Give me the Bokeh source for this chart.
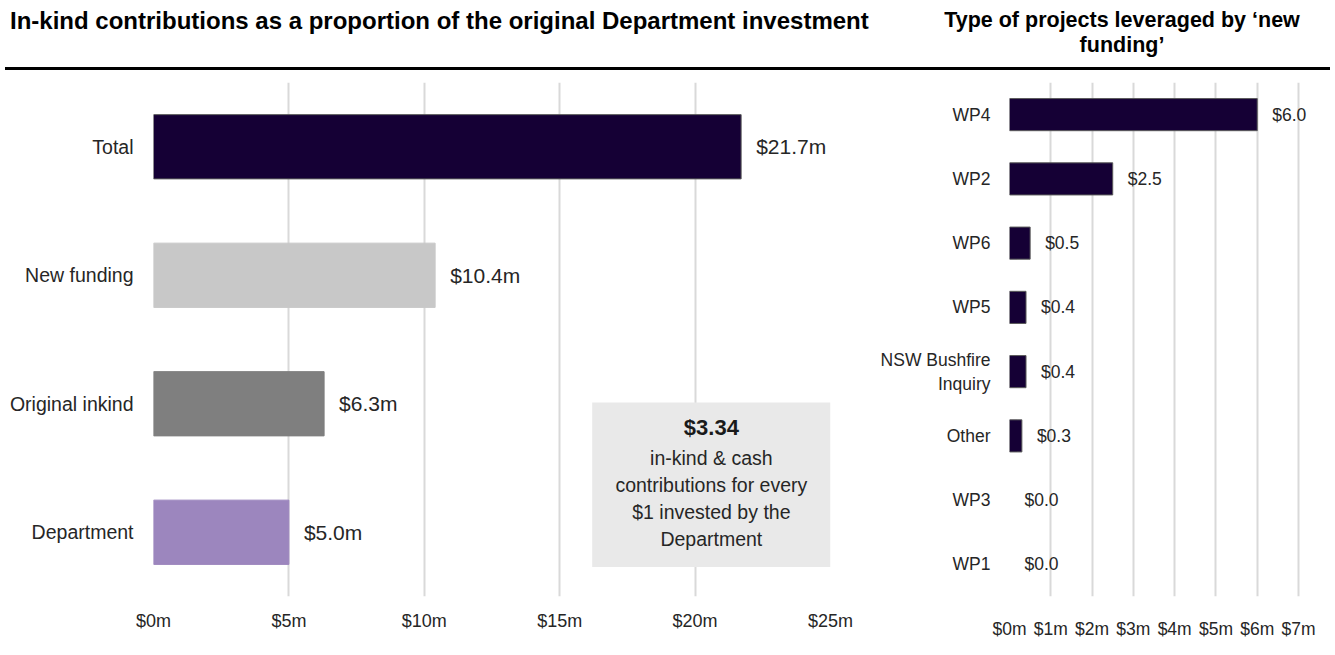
from bokeh.plotting import figure
from bokeh.models import (FactorRange, Range1d, FixedTicker, BoxAnnotation, Label,
                          LabelSet, Div, ColumnDataSource)
from bokeh.layouts import column, row
from bokeh.embed import file_html
from bokeh.resources import INLINE
from bokeh.core.properties import value

# ---------------- data ----------------
left_categories = ["Total", "New funding", "Original inkind", "Department"]
left_values = [21.7, 10.4, 6.3, 5.0]
left_ticks = [0, 5, 10, 15, 20, 25]

right_categories = ["WP4", "WP2", "WP6", "WP5", "NSW Bushfire\nInquiry", "Other", "WP3", "WP1"]
right_values = [6.0, 2.5, 0.5, 0.4, 0.4, 0.3, 0.0, 0.0]
right_ticks = [0, 1, 2, 3, 4, 5, 6, 7]

left_title = "In-kind contributions as a proportion of the original Department investment"
right_title_lines = ["Type of projects leveraged by \u2018new", "funding\u2019"]
callout_lines = ["in-kind & cash", "contributions for every", "$1 invested by the", "Department"]

# ---------------- style ----------------
FONT = "Liberation Sans"
TXT = "#262626"
GRID = "#d9d9d9"
DARK = "#150035"
EDGE = "#5a5a5a"
left_colors = {"Total": DARK, "New funding": "#c8c8c8",
               "Original inkind": "#7f7f7f", "Department": "#9c86be"}
left_edges = {"Total": EDGE, "New funding": "#c8c8c8",
              "Original inkind": "#7f7f7f", "Department": "#9c86be"}
RIGHT_PAD = 0.58   # extra room to the right of $7m so value labels are not clipped


def style_axes(p, x_standoff, y_standoff, xsize, ysize):
    for ax in (p.xaxis[0], p.yaxis[0]):
        ax.axis_line_color = None
        ax.major_tick_line_color = None
        ax.minor_tick_line_color = None
        ax.major_tick_out = 0
        ax.major_tick_in = 0
        ax.minor_tick_out = 0
        ax.major_label_text_font = FONT
        ax.major_label_text_color = TXT
    p.xaxis[0].major_label_text_font_size = xsize
    p.yaxis[0].major_label_text_font_size = ysize
    p.xaxis[0].major_label_standoff = x_standoff
    p.yaxis[0].major_label_standoff = y_standoff
    p.ygrid.grid_line_color = None
    p.xgrid.grid_line_color = GRID
    p.xgrid.grid_line_width = 2
    p.outline_line_color = None


# ---------------- left chart ----------------
lp = figure(width=865, height=585,
            y_range=FactorRange(factors=left_categories[::-1], range_padding=0),
            x_range=Range1d(0, left_ticks[-1]),
            output_backend="svg", toolbar_location=None,
            min_border_left=153, min_border_right=35,
            min_border_top=12, min_border_bottom=59)

lsrc = ColumnDataSource(dict(
    cat=left_categories, val=left_values,
    color=[left_colors[c] for c in left_categories],
    edge=[left_edges[c] for c in left_categories],
    label=["$%.1fm" % v for v in left_values]))
lp.hbar(y="cat", left=0, right="val", height=0.5, fill_color="color",
        line_color="edge", line_width=1, source=lsrc)
lp.add_layout(LabelSet(x="val", y="cat", text="label", x_offset=15, text_baseline="middle",
                       text_font=value(FONT), text_font_size="21px", text_color=TXT,
                       source=lsrc))

lp.xaxis[0].ticker = FixedTicker(ticks=left_ticks)
lp.xaxis[0].major_label_overrides = {t: "$%dm" % t for t in left_ticks}
style_axes(lp, 14, 20, "18px", "19.5px")

# callout box
total = left_values[left_categories.index("Total")]
dept = left_values[left_categories.index("Department")]
ratio = (total - dept) / dept
lp.add_layout(BoxAnnotation(left=16.2, right=25, bottom=0.23, top=1.51,
                            fill_color="#e9e9e9", fill_alpha=1, line_color=None))
cx = 20.6
lp.add_layout(Label(x=cx, y=1.316, text="$%.2f" % ratio, text_align="center",
                    text_baseline="middle", text_font=FONT, text_font_style="bold",
                    text_font_size="22px", text_color="#1a1a1a"))
for i, line in enumerate(callout_lines):
    lp.add_layout(Label(x=cx, y=1.077 - i * 0.211, text=line, text_align="center",
                        text_baseline="middle", text_font=FONT,
                        text_font_size="19.5px", text_color=TXT))

# ---------------- right chart ----------------
rp = figure(width=470, height=585,
            y_range=FactorRange(factors=right_categories[::-1], range_padding=0),
            x_range=Range1d(0, right_ticks[-1] + RIGHT_PAD),
            output_backend="svg", toolbar_location=None,
            min_border_left=144, min_border_right=13,
            min_border_top=10, min_border_bottom=52)

rsrc = ColumnDataSource(dict(
    cat=right_categories, val=right_values,
    edge=[EDGE if v > 0 else None for v in right_values],
    label=["$%.1f" % v for v in right_values]))
rp.hbar(y="cat", left=0, right="val", height=0.5, fill_color=DARK,
        line_color="edge", line_width=1, source=rsrc)
rp.add_layout(LabelSet(x="val", y="cat", text="label", x_offset=15, text_baseline="middle",
                       text_font=value(FONT), text_font_size="17.5px", text_color=TXT,
                       source=rsrc))

rp.xaxis[0].ticker = FixedTicker(ticks=right_ticks)
rp.xaxis[0].major_label_overrides = {t: "$%dm" % t for t in right_ticks}
style_axes(rp, 22, 19, "17.5px", "17.5px")

# ---------------- header ----------------
tfont = "font-family:'Liberation Sans',Arial,sans-serif;font-weight:bold;color:#000;"
header_html = (
    '<div style="position:relative;width:1335px;height:70px;">'
    '<div style="position:absolute;left:10px;top:8px;font-size:24px;line-height:25px;'
    'white-space:nowrap;%s">%s</div>'
    '<div style="position:absolute;left:922px;width:400px;top:8px;font-size:21.5px;'
    'line-height:25px;text-align:center;white-space:nowrap;%s">%s<br>%s</div>'
    '<div style="position:absolute;left:5px;width:1325px;top:67px;height:3px;'
    'background:#000;"></div>'
    '</div>' % (tfont, left_title, tfont, right_title_lines[0], right_title_lines[1])
)
header = Div(text=header_html, width=1335, height=70, margin=(0, 0, 0, 0))

layout = column(header, row(lp, rp, spacing=0), spacing=0)

with open("out.html", "w") as f:
    f.write(file_html(layout, INLINE))
